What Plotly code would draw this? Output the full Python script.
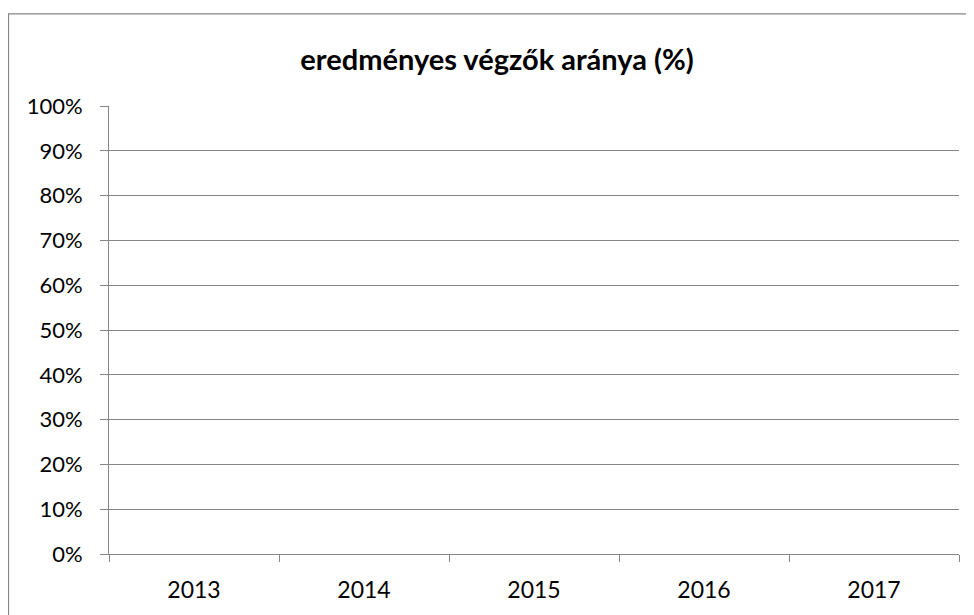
import plotly.graph_objects as go

# Data (the reference chart shows no plotted values)
years = ["2013", "2014", "2015", "2016", "2017"]
values = [None, None, None, None, None]
y_ticks = [0, 0.1, 0.2, 0.3, 0.4, 0.5, 0.6, 0.7, 0.8, 0.9, 1.0]
y_tick_labels = ["0%", "10%", "20%", "30%", "40%", "50%", "60%", "70%", "80%", "90%", "100%"]
title_text = "eredményes végzők aránya (%)"

# page has an 8px body margin, so the figure starts at page (8, 8)
W, H = 966, 607
L, R, T, B = 101, 15, 98, 59
GRAY = "#868686"
FONT = "Lato"

fig = go.Figure()
fig.add_trace(go.Bar(x=years, y=values, marker_color="#4F81BD", showlegend=False))

pw = W - L - R
ph = H - T - B

def px_x(p):
    return (p - L) / pw

def px_y(p):
    return (H - B - p) / ph

fig.update_layout(
    width=W, height=H,
    margin=dict(l=L, r=R, t=T, b=B),
    paper_bgcolor="white", plot_bgcolor="white",
    font=dict(family=FONT, size=22, color="black"),
    title=dict(text="<b>" + title_text + "</b>", x=489 / W, xanchor="center",
               y=1 - 52 / H, yanchor="middle",
               font=dict(family=FONT, size=29, color="black")),
    xaxis=dict(type="category", categoryorder="array", categoryarray=years,
               showgrid=False, showline=True, linecolor=GRAY, linewidth=1,
               ticks="outside", tickson="boundaries", ticklen=7, tickcolor=GRAY,
               tickwidth=1, ticklabelstandoff=15, zeroline=False,
               tickfont=dict(family=FONT, size=23, color="black")),
    yaxis=dict(range=[0, 1], tickvals=y_ticks, ticktext=y_tick_labels,
               showgrid=True, gridcolor=GRAY, gridwidth=1,
               showline=True, linecolor=GRAY, linewidth=1,
               ticks="outside", ticklen=8, tickcolor=GRAY, tickwidth=1,
               ticklabelstandoff=13, zeroline=False,
               tickfont=dict(family=FONT, size=22, color="black")),
    shapes=[dict(type="rect", xref="paper", yref="paper",
                 x0=px_x(0.5), x1=px_x(990), y0=px_y(630), y1=px_y(5.5),
                 line=dict(color=GRAY, width=1.2), fillcolor="rgba(0,0,0,0)",
                 layer="below")],
)

fig.write_html("out.html")
